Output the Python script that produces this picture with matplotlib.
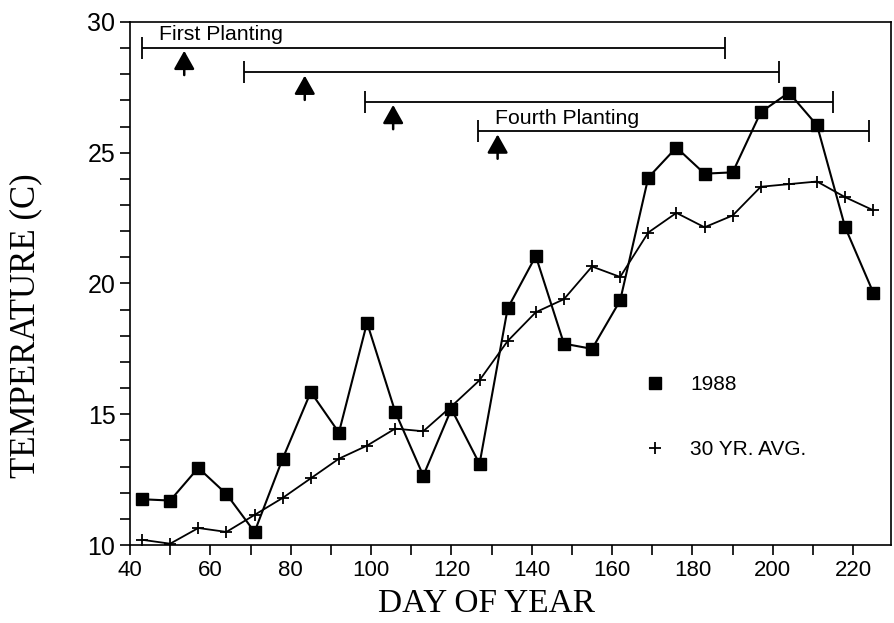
import numpy as np
import matplotlib
matplotlib.use('Agg')
import matplotlib.pyplot as plt
from matplotlib.lines import Line2D

# day of year (weekly) and temperatures
days = [43, 50, 57, 64, 71, 78, 85, 92, 99, 106, 113, 120, 127, 134,
        141, 148, 155, 162, 169, 176, 183, 190, 197, 204, 211, 218, 225]
temp_1988 = [11.75, 11.7, 12.95, 11.95, 10.5, 13.3, 15.85, 14.3, 18.5, 15.1,
             12.65, 15.2, 13.1, 19.05, 21.05, 17.7, 17.5, 19.35, 24.05, 25.2,
             24.2, 24.25, 26.55, 27.3, 26.05, 22.15, 19.65]
temp_avg = [10.2, 10.05, 10.65, 10.5, 11.15, 11.8, 12.55, 13.3, 13.8, 14.45,
            14.35, 15.3, 16.3, 17.8, 18.9, 19.4, 20.65, 20.25, 21.95, 22.7,
            22.15, 22.6, 23.7, 23.8, 23.9, 23.3, 22.8]

# planting periods (start, end, bar height) and planting date arrows
plant_start = [43, 68.5, 98.5, 126.5]
plant_end = [188, 201.5, 215, 224]
plant_y = [29.02, 28.07, 26.95, 25.82]
arrow_day = [53.5, 83.5, 105.5, 131.5]
plant_labels = {0: 'First Planting', 3: 'Fourth Planting'}

sans = 'Liberation Sans'
serif = 'Liberation Serif'

fig = plt.figure(figsize=(8.94, 6.23), dpi=100)
ax = fig.add_axes([0.1454, 0.1252, 0.8512, 0.8395])
ax.set_xlim(40, 229.4)
ax.set_ylim(10, 30)

ax.plot(days, temp_1988, color='black', lw=1.5, marker='s', ms=8.5,
        mfc='black', mec='black', zorder=3)
ax.plot(days, temp_avg, color='black', lw=1.3, marker='+', ms=9, mew=1.3,
        zorder=3)

# planting bars with end caps
for i in range(len(plant_start)):
    mid = (plant_start[i] + plant_end[i]) / 2
    half = (plant_end[i] - plant_start[i]) / 2
    ax.errorbar(mid, plant_y[i], xerr=half, fmt='none', ecolor='black',
                elinewidth=1.3, capsize=8, capthick=1.3)
    ax.annotate('', xy=(arrow_day[i], plant_y[i] - 0.12),
                xytext=(arrow_day[i], plant_y[i] - 1.05),
                arrowprops=dict(arrowstyle='-|>,head_width=0.45,head_length=0.8',
                                color='black', lw=1.8, mutation_scale=14,
                                shrinkA=0, shrinkB=0))
    if i in plant_labels:
        ax.text(plant_start[i] + 4.3, plant_y[i] + 0.12, plant_labels[i],
                fontsize=15.3, family=sans, va='bottom', ha='left')

handles = [Line2D([], [], ls='none', marker='s', ms=8, color='black'),
           Line2D([], [], ls='none', marker='+', ms=8, mew=1.3, color='black')]
ax.legend(handles, ['1988', '30 YR. AVG.'], loc='center left',
          bbox_to_anchor=(0.651, 0.244), frameon=False, labelspacing=2.2,
          handlelength=1.0, handletextpad=1.2,
          prop={'family': sans, 'size': 15})

ax.set_xticks(np.arange(40, 221, 20))
ax.set_xticks(np.arange(40, 229, 10), minor=True)
ax.set_yticks(np.arange(10, 31, 5))
ax.set_yticks(np.arange(10, 31, 1), minor=True)
ax.tick_params(which='both', direction='out', length=7, width=1.2, color='black')
ax.tick_params(axis='x', labelsize=16)
ax.tick_params(axis='y', labelsize=18)
for lab in ax.get_xticklabels() + ax.get_yticklabels():
    lab.set_family(sans)

for s in ax.spines.values():
    s.set_linewidth(1.2)

ax.set_xlabel('DAY OF YEAR', family=serif, fontsize=24)
ax.set_ylabel('TEMPERATURE (C)', family=serif, fontsize=25)
ax.xaxis.set_label_coords(0.468, -0.083)
ax.yaxis.set_label_coords(-0.115, 0.42)

fig.savefig('out.png', dpi=100)
